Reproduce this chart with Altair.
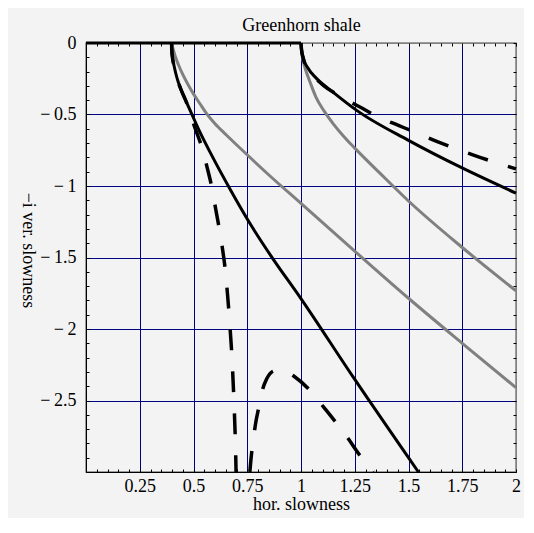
import altair as alt
import pandas as pd

# ---------------- data ----------------
chart_title = "Greenhorn shale"
x_title = "hor. slowness"
y_title = "−i ver. slowness"

x_major = [0.25, 0.5, 0.75, 1, 1.25, 1.5, 1.75, 2]
y_major = [0, -0.5, -1, -1.5, -2, -2.5]
x_minor = [0, 0.05, 0.1, 0.15, 0.2, 0.25, 0.3, 0.35, 0.4, 0.45, 0.5, 0.55, 0.6, 0.65,
           0.7, 0.75, 0.8, 0.85, 0.9, 0.95, 1, 1.05, 1.1, 1.15, 1.2, 1.25, 1.3, 1.35,
           1.4, 1.45, 1.5, 1.55, 1.6, 1.65, 1.7, 1.75, 1.8, 1.85, 1.9, 1.95, 2]
y_minor = [0, -0.1, -0.2, -0.3, -0.4, -0.5, -0.6, -0.7, -0.8, -0.9, -1, -1.1, -1.2,
           -1.3, -1.4, -1.5, -1.6, -1.7, -1.8, -1.9, -2, -2.1, -2.2, -2.3, -2.4, -2.5,
           -2.6, -2.7, -2.8, -2.9, -3]

# black solid: zero segment
zero_x = [0, 1.0]
zero_y = [0, 0]

# black solid branch from 0.398
blackA_x = [0.398, 0.399, 0.402, 0.409, 0.418, 0.429, 0.443, 0.46, 0.491, 0.53, 0.577,
            0.678, 0.77, 0.864, 0.995, 1.243, 1.546]
blackA_y = [0, -0.05, -0.1, -0.156, -0.215, -0.273, -0.33, -0.389, -0.494, -0.623, -0.763,
            -1.043, -1.28, -1.497, -1.777, -2.337, -3.0]

# black solid branch from 1.0
blackC_x = [1.0, 1.002, 1.011, 1.03, 1.073, 1.15, 1.259, 1.5, 1.747, 2.0]
blackC_y = [0, -0.04, -0.109, -0.17, -0.249, -0.345, -0.471, -0.681, -0.872, -1.05]

# gray branch from 0.398
grayB_x = [0.398, 0.4, 0.405, 0.415, 0.43, 0.45, 0.475, 0.499, 0.53, 0.561, 0.6, 0.654,
           0.747, 0.856, 1.0, 1.251, 1.5, 1.75, 2.0]
grayB_y = [0, -0.012, -0.042, -0.092, -0.152, -0.22, -0.292, -0.354, -0.425, -0.494,
           -0.565, -0.645, -0.778, -0.93, -1.122, -1.457, -1.785, -2.1, -2.41]

# gray branch from 1.0
grayD_x = [1.0, 1.002, 1.008, 1.02, 1.04, 1.07, 1.107, 1.15, 1.2, 1.25, 1.367, 1.5,
           1.75, 2.0]
grayD_y = [0, -0.05, -0.11, -0.18, -0.265, -0.38, -0.475, -0.565, -0.655, -0.735,
           -0.91, -1.105, -1.43, -1.733]

# dashed branch from 1.0
dashE_x = [1.0, 1.002, 1.011, 1.03, 1.06, 1.104, 1.189, 1.274, 1.36, 1.453, 1.546,
           1.64, 1.73, 1.829, 1.922, 2.0]
dashE_y = [0, -0.04, -0.109, -0.175, -0.235, -0.296, -0.378, -0.448, -0.518, -0.576,
           -0.634, -0.693, -0.744, -0.798, -0.844, -0.88]

# dashed steep branch from 0.398
dashF_x = [0.398, 0.399, 0.402, 0.409, 0.418, 0.429, 0.443, 0.46, 0.48, 0.499, 0.536,
           0.563, 0.585, 0.603, 0.62, 0.636, 0.649, 0.658, 0.666, 0.673, 0.679, 0.684,
           0.688, 0.692, 0.695, 0.698]
dashF_y = [0, -0.05, -0.1, -0.156, -0.215, -0.273, -0.33, -0.389, -0.465, -0.56, -0.716,
           -0.868, -1.008, -1.159, -1.3, -1.451, -1.603, -1.754, -1.906, -2.057, -2.2,
           -2.36, -2.5, -2.66, -2.8, -3.0]

# dashed hump near the bottom
dashG_x = [0.762, 0.768, 0.776, 0.79, 0.802, 0.82, 0.84, 0.87, 0.9, 0.94, 0.969, 1.042,
           1.108, 1.215, 1.277, 1.336]
dashG_y = [-3.0, -2.9, -2.8, -2.65, -2.56, -2.43, -2.35, -2.295, -2.285, -2.305, -2.332,
           -2.43, -2.551, -2.757, -2.89, -3.0]


def frame(series):
    rows = []
    for name, xs, ys in series:
        for i, (a, b) in enumerate(zip(xs, ys)):
            rows.append({"curve": name, "i": i, "x": a, "y": b})
    return pd.DataFrame(rows)


gray_df = frame([("B", grayB_x, grayB_y), ("D", grayD_x, grayD_y)])
black_df = frame([("Z", zero_x, zero_y), ("A", blackA_x, blackA_y), ("C", blackC_x, blackC_y)])
dash_df = frame([("E", dashE_x, dashE_y), ("F", dashF_x, dashF_y), ("G", dashG_x, dashG_y)])

FONT = "Liberation Serif"
NAVY = "#000080"
xs = alt.Scale(domain=[0, 2], nice=False, zero=False)
ys = alt.Scale(domain=[-3, 0], nice=False, zero=False)

main_x_axis = alt.Axis(
    orient="bottom", values=x_major, grid=True,
    gridColor={"condition": {"test": "datum.value >= 2", "value": "#808080"}, "value": NAVY},
    gridWidth=1, gridOpacity=1, domainColor="black", domainWidth=1, ticks=False,
    labelFont=FONT, labelFontSize=18, labelColor="black", labelPadding=5,
    labelFlush=False, labelOverlap=False, labelExpr="'' + datum.value",
    titleFont=FONT, titleFontSize=18, titleFontWeight="normal", titleColor="black",
    titleX=215, titleY=37, titleBaseline="alphabetic", titleAlign="center",
)
main_y_axis = alt.Axis(
    orient="left", values=y_major, grid=True,
    gridColor={"condition": {"test": "datum.value >= 0", "value": "#808080"}, "value": NAVY},
    gridWidth=1, gridOpacity=1, domainColor="black", domainWidth=1, ticks=False,
    labelFont=FONT, labelFontSize=18, labelColor="black", labelPadding=10,
    labelFlush=False, labelOverlap=False,
    labelExpr="datum.value == 0 ? '0' : '−\u2009' + (-datum.value)",
    titleFont=FONT, titleFontSize=18, titleFontWeight="normal", titleColor="black",
    titleAngle=90, titleX=-59, titleY=207, titleAlign="center", titleBaseline="middle",
)


def minor_axis(orient, vals, **kw):
    return alt.Axis(orient=orient, values=vals, offset=-3, tickSize=3, tickColor="black",
                    tickWidth=1, domain=False, labels=False, grid=False, **kw)


# the chart heading is carried as the title of the top (minor-tick) axis
top_axis = minor_axis(
    "top", x_minor,
    titleFont=FONT, titleFontSize=18, titleFontWeight="normal", titleColor="black",
    titleX=215, titleY=-16, titleBaseline="alphabetic", titleAlign="center",
)

gray = alt.Chart(gray_df).mark_line(color="#808080", strokeWidth=3, interpolate="monotone").encode(
    x=alt.X("x:Q", scale=xs, axis=main_x_axis, title=x_title),
    y=alt.Y("y:Q", scale=ys, axis=main_y_axis, title=y_title),
    detail="curve:N", order="i:Q",
)
black = alt.Chart(black_df).mark_line(color="black", strokeWidth=3, interpolate="monotone").encode(
    x=alt.X("x:Q", scale=xs, axis=minor_axis("bottom", x_minor), title=None),
    y=alt.Y("y:Q", scale=ys, axis=minor_axis("left", y_minor), title=None),
    detail="curve:N", order="i:Q",
)
dashed = alt.Chart(dash_df).mark_line(color="black", strokeWidth=3.5, strokeDash=[21, 21],
                                      interpolate="monotone").encode(
    x=alt.X("x:Q", scale=xs, axis=top_axis, title=chart_title),
    y=alt.Y("y:Q", scale=ys, axis=minor_axis("right", y_minor), title=None),
    detail="curve:N", order="i:Q",
)

chart = alt.layer(gray, black, dashed).resolve_axis(
    x="independent", y="independent"
).properties(
    width=430, height=429,
    autosize=alt.AutoSizeParams(type="none"),
    padding={"left": 78, "top": 35, "right": 8, "bottom": 46},
).configure(background="#f3f3f3").configure_view(stroke="#808080", strokeWidth=1.5)

chart.save("out.html", embed_options={"renderer": "svg", "actions": False})
